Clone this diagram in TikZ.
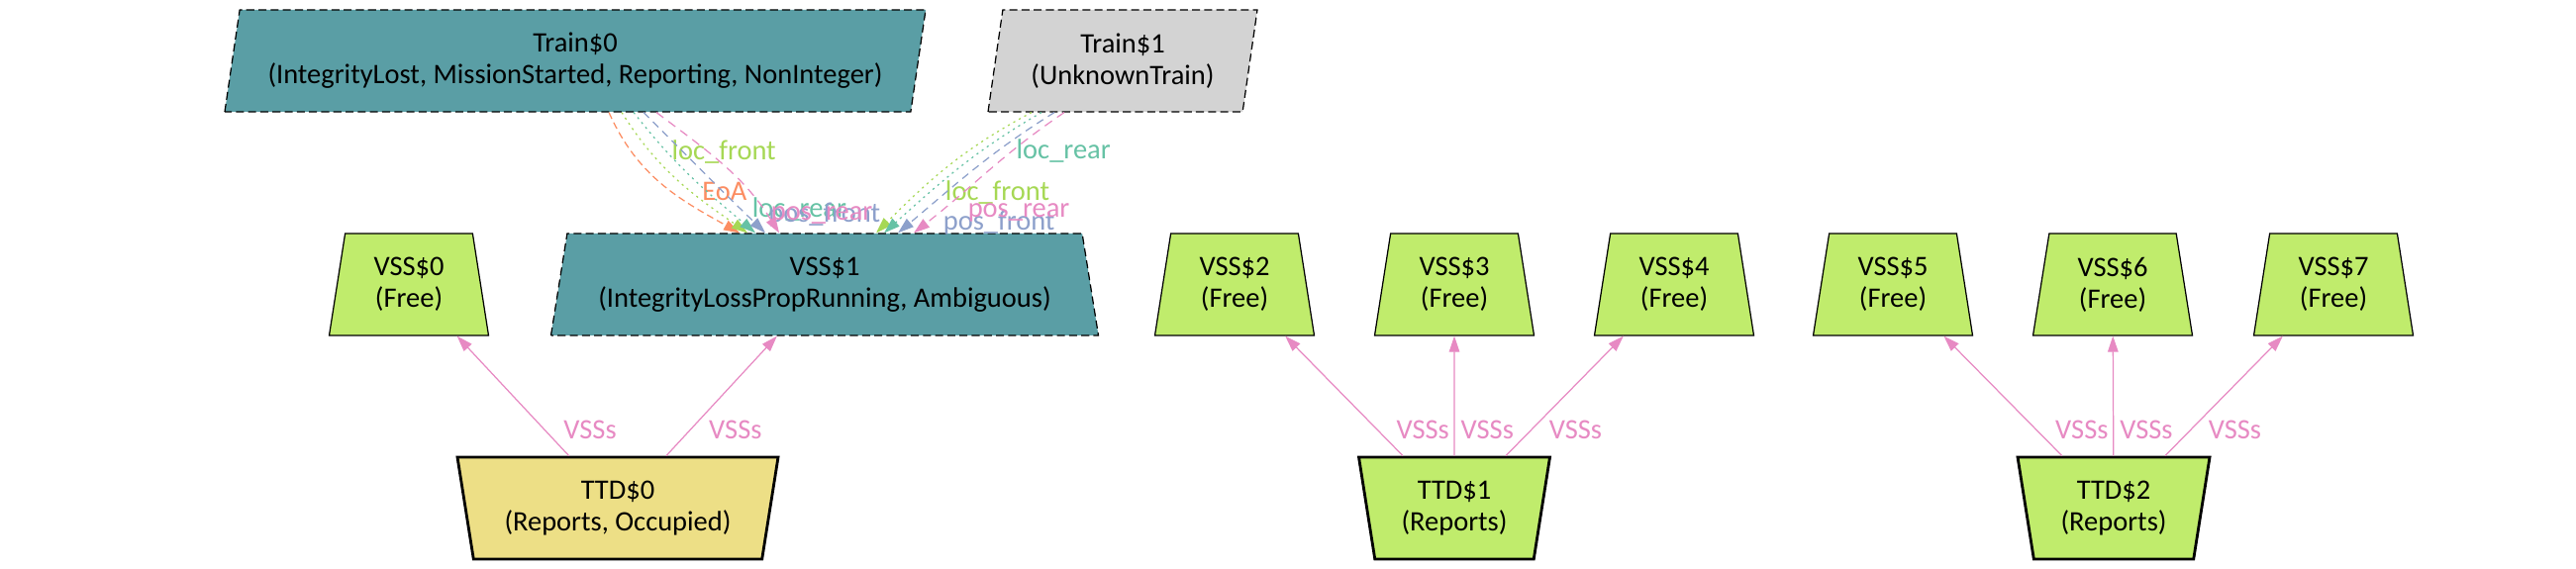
\documentclass[tikz,border=0pt]{standalone}
\usepackage{fontspec}
\setmainfont{Carlito}
\usetikzlibrary{arrows.meta,shapes.geometric,positioning}
\definecolor{trainteal}{RGB}{90,158,165}
\definecolor{unkgray}{RGB}{211,211,211}
\definecolor{freegreen}{RGB}{192,236,108}
\definecolor{occyellow}{RGB}{237,223,134}
\definecolor{eoacol}{RGB}{252,141,98}
\definecolor{lfcol}{RGB}{166,216,84}
\definecolor{lrcol}{RGB}{102,194,165}
\definecolor{pfcol}{RGB}{141,160,203}
\definecolor{prcol}{RGB}{231,138,195}

\begin{document}
\begin{tikzpicture}[font=\fontsize{8.1}{9.1}\selectfont,
  box/.style={trapezium,trapezium stretches body,draw,line width=.35pt,inner sep=0pt,align=center,minimum height=1.03cm},
  vssbox/.style={box,trapezium left angle=73.5,trapezium right angle=73.5},
  ttdbox/.style={box,trapezium left angle=106.5,trapezium right angle=106.5,line width=.8pt},
  trainbox/.style={box,trapezium left angle=75,trapezium right angle=105},
  dashedbox/.style={dash pattern=on 2.3pt off 1.2pt},
  rel/.style={line width=.35pt,-{Triangle[length=1.6mm,width=1.05mm]}},
  lbl/.style={inner sep=0pt}]
\fill[white] (0,0) rectangle (26.02,-5.75);
\node[trainbox,dashedbox,fill=trainteal,minimum width=7.08cm] (train0) at (5.81,-.615) {Train\$0\\(IntegrityLost, MissionStarted, Reporting, NonInteger)};
\node[trainbox,dashedbox,fill=unkgray,minimum width=2.72cm] (train1) at (11.34,-.615) {Train\$1\\(UnknownTrain)};
\foreach \i/\x in {0/4.13,2/12.47,3/14.69,4/16.91,5/19.12,6/21.34,7/23.57}{\node[vssbox,fill=freegreen,minimum width=1.61cm] (vss\i) at (\x,-2.875) {VSS\$\i\\(Free)};}
\node[vssbox,dashedbox,fill=trainteal,minimum width=5.53cm] (vss1) at (8.33,-2.875) {VSS\$1\\(IntegrityLossPropRunning, Ambiguous)};
\node[ttdbox,fill=occyellow,minimum width=3.24cm] (ttd0) at (6.24,-5.135) {TTD\$0\\(Reports, Occupied)};
\node[ttdbox,fill=freegreen,minimum width=1.93cm] (ttd1) at (14.69,-5.135) {TTD\$1\\(Reports)};
\node[ttdbox,fill=freegreen,minimum width=1.94cm] (ttd2) at (21.35,-5.135) {TTD\$2\\(Reports)};
\foreach \t/\v/\d in {0/0/1.9mm,0/1/1.8mm,1/2/1.9mm,1/3/.6mm,1/4/1.7mm,2/5/1.9mm,2/6/.6mm,2/7/1.7mm}{\draw[rel,prcol] (ttd\t) -- node[lbl,pos=.22,right=\d,text=prcol] {VSSs} (vss\v);}
\draw[rel,eoacol,dash pattern=on 2pt off 1.2pt] ([xshift=3.4mm]train0.south) to[out=-66,in=151] node[lbl,pos=.575,right=3mm] {EoA} ([xshift=-8.6mm]vss1.north);
\draw[rel,lfcol,dash pattern=on .6pt off 1.2pt] ([xshift=4.7mm]train0.south) to[out=-58,in=145] node[lbl,pos=.265,right=2.1mm] {loc\_front} ([xshift=-7.8mm]vss1.north);
\draw[rel,lrcol,dash pattern=on .6pt off 1.2pt] ([xshift=5.9mm]train0.south) to[out=-52,in=140] node[lbl,pos=.8,right=2.5mm] {loc\_rear} ([xshift=-7mm]vss1.north);
\draw[rel,pfcol,dash pattern=on 2.2pt off 1.6pt] ([xshift=6.9mm]train0.south) to[out=-45,in=136] node[lbl,pos=.86,right=2.2mm] {pos\_front} ([xshift=-6mm]vss1.north);
\draw[rel,prcol,dash pattern=on 2.5pt off 1.8pt] ([xshift=8.2mm]train0.south) to[out=-37,in=122] node[lbl,pos=.89,right=.3mm] {pos\_rear} ([xshift=-4.6mm]vss1.north);
\draw[rel,lfcol,dash pattern=on .6pt off 1.2pt] ([xshift=-9.2mm]train1.south) to[out=208,in=45] node[lbl,pos=.72,right=2.7mm] {loc\_front} ([xshift=5.2mm]vss1.north);
\draw[rel,lrcol,dash pattern=on .6pt off 1.2pt] ([xshift=-8.2mm]train1.south) to[out=210,in=42] node[lbl,pos=.35,right=3.5mm] {loc\_rear} ([xshift=6mm]vss1.north);
\draw[rel,pfcol,dash pattern=on 2.2pt off 1.6pt] ([xshift=-6.9mm]train1.south) to[out=212,in=40] node[lbl,pos=.93,right=3.3mm] {pos\_front} ([xshift=7.4mm]vss1.north);
\draw[rel,prcol,dash pattern=on 2.5pt off 1.8pt] ([xshift=-5.9mm]train1.south) to[out=214,in=38] node[lbl,pos=.85,right=2.9mm] {pos\_rear} ([xshift=9mm]vss1.north);
\end{tikzpicture}
\end{document}
